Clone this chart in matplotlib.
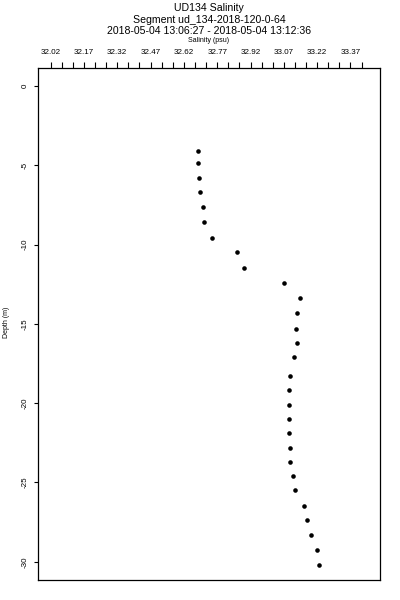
import matplotlib
matplotlib.use("Agg")
import matplotlib.pyplot as plt
import numpy as np

plt.rcParams['font.family'] = ['Liberation Sans', 'DejaVu Sans']

title_lines = ["UD134 Salinity",
               "Segment ud_134-2018-120-0-64",
               "2018-05-04 13:06:27 - 2018-05-04 13:12:36"]

salinity = [32.684, 32.685, 32.688, 32.694, 32.707, 32.712, 32.745, 32.861,
            32.892, 33.072, 33.143, 33.129, 33.126, 33.131, 33.115, 33.099,
            33.093, 33.095, 33.093, 33.093, 33.098, 33.098, 33.113, 33.122,
            33.160, 33.173, 33.193, 33.221, 33.230]
depth = [-4.08, -4.86, -5.80, -6.70, -7.64, -8.59, -9.57, -10.47, -11.45,
         -12.44, -13.40, -14.34, -15.31, -16.21, -17.10, -18.30, -19.18,
         -20.10, -21.00, -21.88, -22.80, -23.70, -24.62, -25.50, -26.46,
         -27.34, -28.31, -29.27, -30.19]

x_major = [32.02, 32.17, 32.32, 32.47, 32.62, 32.77, 32.92, 33.07, 33.22, 33.37]
x_minor = [round(32.02 + 0.05 * i, 2) for i in range(29)]
y_ticks = [0, -5, -10, -15, -20, -25, -30]

fig = plt.figure(figsize=(4, 6), dpi=100)
ax = fig.add_axes([0.095, 0.0333, 0.855, 0.8534])

ax.plot(salinity, depth, 'o', color='black', ms=3.3, mew=0)

ax.set_xlim(31.963, 33.503)
ax.set_ylim(-31.15, 1.13)

# salinity axis on top
ax.xaxis.tick_top()
ax.set_xticks(x_major)
ax.set_xticks([v for v in x_minor if v not in x_major], minor=True)
ax.set_xticklabels(["%.2f" % v for v in x_major], fontsize=5.8)
ax.tick_params(axis='x', which='both', direction='out', length=4.5, width=0.8, pad=4)

ax.set_yticks(y_ticks)
ax.set_yticklabels([str(v) for v in y_ticks], fontsize=5.8, rotation=90, va='center')
ax.tick_params(axis='y', which='both', direction='out', length=3, width=0.8, pad=4)

for s in ax.spines.values():
    s.set_linewidth(0.9)

fig.text(0.5225, 0.933, "Salinity (psu)", ha='center', va='center', fontsize=5)
fig.text(0.016, 0.462, "Depth (m)", ha='center', va='center', fontsize=5, rotation=90)

ys = [0.986, 0.967, 0.948]
for t, y in zip(title_lines, ys):
    fig.text(0.5225, y, t, ha='center', va='center', fontsize=7.6)

fig.savefig("out.png", dpi=100)
